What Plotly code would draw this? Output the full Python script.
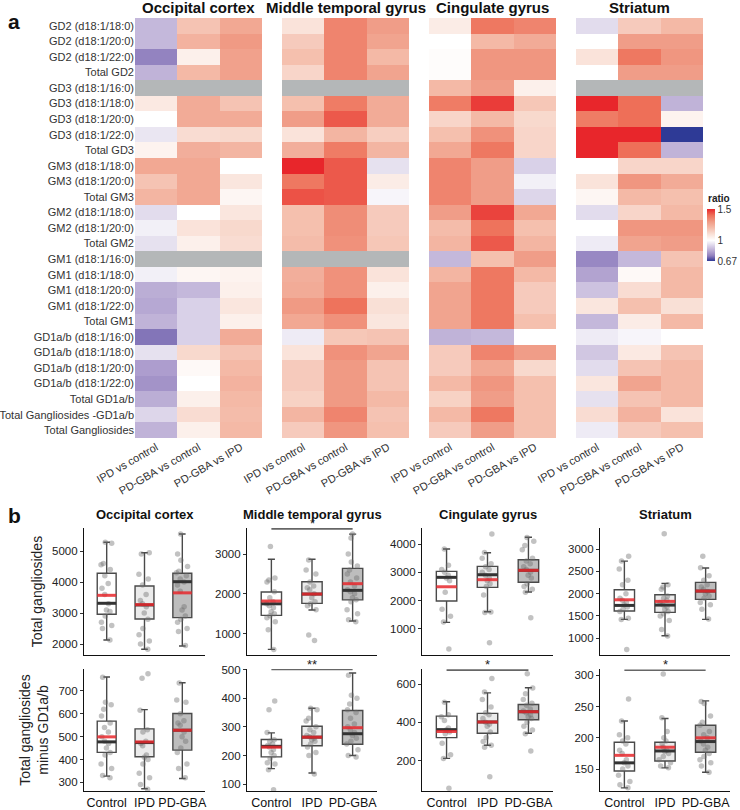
import plotly.graph_objects as go

FONT = "Liberation Sans, Arial, sans-serif"
W, H = 740, 810

# ---------------- heatmap data (ratios) ----------------
rows = ["GD2 (d18:1/18:0)", "GD2 (d18:1/20:0)", "GD2 (d18:1/22:0)", "Total GD2",
        "GD3 (d18:1/16:0)", "GD3 (d18:1/18:0)", "GD3 (d18:1/20:0)", "GD3 (d18:1/22:0)", "Total GD3",
        "GM3 (d18:1/18:0)", "GM3 (d18:1/20:0)", "Total GM3",
        "GM2 (d18:1/18:0)", "GM2 (d18:1/20:0)", "Total GM2",
        "GM1 (d18:1/16:0)", "GM1 (d18:1/18:0)", "GM1 (d18:1/20:0)", "GM1 (d18:1/22:0)", "Total GM1",
        "GD1a/b (d18:1/16:0)", "GD1a/b (d18:1/18:0)", "GD1a/b (d18:1/20:0)", "GD1a/b (d18:1/22:0)",
        "Total GD1a/b", "Total Gangliosides -GD1a/b", "Total Gangliosides"]
comparisons = ["IPD vs control", "PD-GBA vs control", "PD-GBA vs IPD"]
regions = ["Occipital cortex", "Middle temporal gyrus", "Cingulate gyrus", "Striatum"]

occipital = [
    [0.86, 1.18, 1.26], [0.86, 1.23, 1.30], [0.76, 1.05, 1.28], [0.85, 1.21, 1.28],
    [None, None, None], [1.07, 1.25, 1.18], [1.00, 1.25, 1.25], [0.95, 1.11, 1.12], [1.04, 1.24, 1.22],
    [1.26, 1.26, 1.00], [1.18, 1.26, 1.08], [1.22, 1.26, 1.03],
    [0.93, 1.00, 1.08], [0.97, 1.09, 1.12], [0.94, 1.05, 1.11],
    [None, None, None], [0.97, 1.03, 1.04], [0.84, 0.86, 1.05], [0.83, 0.91, 1.08], [0.85, 0.91, 1.05],
    [0.74, 0.91, 1.25], [0.94, 1.12, 1.18], [0.81, 1.02, 1.21], [0.79, 1.00, 1.23],
    [0.84, 1.05, 1.21], [0.92, 1.11, 1.20], [0.85, 1.05, 1.21]]
temporal = [
    [1.09, 1.35, 1.29], [1.16, 1.35, 1.27], [1.19, 1.35, 1.21], [1.13, 1.35, 1.27],
    [None, None, None], [1.19, 1.37, 1.25], [1.29, 1.43, 1.25], [1.09, 1.22, 1.15], [1.24, 1.37, 1.22],
    [1.50, 1.43, 0.94], [1.38, 1.43, 1.06], [1.44, 1.43, 0.98],
    [1.19, 1.33, 1.16], [1.19, 1.33, 1.16], [1.20, 1.32, 1.17],
    [None, None, None], [1.24, 1.32, 1.09], [1.25, 1.32, 1.05], [1.30, 1.39, 1.10], [1.26, 1.32, 1.08],
    [0.96, 1.17, 1.18], [1.09, 1.32, 1.27], [1.16, 1.30, 1.18], [1.16, 1.30, 1.18],
    [1.14, 1.30, 1.21], [1.22, 1.35, 1.18], [1.16, 1.31, 1.19]]
cingulate = [
    [1.06, 1.38, 1.35], [1.00, 1.21, 1.25], [1.01, 1.31, 1.31], [1.01, 1.31, 1.31],
    [1.21, 1.29, 1.05], [1.37, 1.47, 1.17], [1.13, 1.21, 1.12], [1.19, 1.32, 1.13], [1.26, 1.38, 1.13],
    [1.35, 1.29, 0.91], [1.35, 1.29, 0.97], [1.35, 1.29, 0.92],
    [1.29, 1.46, 1.26], [1.20, 1.39, 1.19], [1.22, 1.43, 1.22],
    [0.86, 1.19, 1.29], [1.22, 1.38, 1.21], [1.27, 1.38, 1.16], [1.27, 1.38, 1.16], [1.27, 1.38, 1.19],
    [0.85, 0.86, 1.00], [1.16, 1.35, 1.29], [1.16, 1.26, 1.12], [1.21, 1.31, 1.19],
    [1.14, 1.29, 1.19], [1.21, 1.38, 1.19], [1.16, 1.29, 1.19]]
striatum = [
    [0.93, 1.16, 1.21], [1.00, 1.29, 1.29], [1.09, 1.38, 1.31], [1.00, 1.29, 1.29],
    [None, None, None], [1.50, 1.40, 0.85], [1.37, 1.40, 1.04], [1.50, 1.50, 0.67], [1.50, 1.40, 0.85],
    [1.00, 1.13, 1.13], [1.09, 1.31, 1.25], [1.03, 1.21, 1.19],
    [0.93, 1.13, 1.21], [1.00, 1.31, 1.31], [0.96, 1.27, 1.29],
    [0.77, 0.86, 1.18], [0.82, 1.02, 1.21], [0.88, 1.11, 1.21], [1.08, 1.19, 1.10], [0.86, 1.06, 1.21],
    [0.96, 0.98, 1.00], [0.89, 1.07, 1.18], [0.93, 1.18, 1.21], [1.08, 1.27, 1.21],
    [0.94, 1.18, 1.21], [1.11, 1.23, 1.09], [0.96, 1.16, 1.19]]
heat_data = [occipital, temporal, cingulate, striatum]

# colour anchors (ratio -> colour)
ZMIN, ZMAX = 0.67, 1.5
anchors = [(0.67, "#2E3A96"), (0.70, "#5550A3"), (0.75, "#8E7EBD"), (0.80, "#A898CB"),
           (0.85, "#C0B3D8"), (0.90, "#D5CCE5"), (0.95, "#EAE6F2"), (1.00, "#FFFFFF"),
           (1.10, "#F9E0D6"), (1.20, "#F4BCAA"), (1.30, "#F09A84"), (1.40, "#EE6F58"),
           (1.50, "#E8262B")]
cscale = [[(r - ZMIN) / (ZMAX - ZMIN), c] for r, c in anchors]

# ---------------- box plot data ----------------
groups = ["Control", "IPD", "PD-GBA"]
box_fill = ["#FFFFFF", "#EBEBEB", "#BDBDBD"]

# order per group: q1, median, q3, mean, lower whisker, upper whisker
total_stats = {
    "Occipital cortex": [[2960, 3313, 4280, 3570, 2130, 5280],
                         [2806, 3260, 3870, 3270, 1830, 4945],
                         [2850, 4010, 4280, 3650, 1935, 5550]],
    "Middle temporal gyrus": [[1460, 1750, 2045, 1820, 605, 2867],
                              [1760, 1995, 2305, 1995, 1593, 2867],
                              [1850, 2088, 2640, 2255, 1317, 3500]],
    "Cingulate gyrus": [[1985, 2823, 3035, 2490, 1233, 3823],
                        [2470, 2915, 3210, 2740, 1607, 3693],
                        [2647, 3070, 3445, 3070, 2304, 4236]],
    "Striatum": [[1610, 1737, 2088, 1863, 1424, 2730],
                 [1580, 1744, 1976, 1827, 1056, 2231],
                 [1872, 2058, 2253, 2058, 1424, 2574]],
}
total_points = {
    "Occipital cortex": [
        [5280, 5250, 4600, 4560, 4400, 4200, 3950, 3800, 3600, 3300, 3100, 3050, 2900, 2700, 2600, 2500, 2130],
        [4940, 4900, 4250, 4100, 3900, 3600, 3400, 3300, 3200, 3000, 2800, 2500, 2300, 2100, 2000, 1830],
        [5550, 4900, 4700, 4500, 4350, 4300, 4200, 4100, 4000, 3900, 3700, 3200, 3100, 2900, 2800, 2700, 2500, 2400, 1950]],
    "Middle temporal gyrus": [
        [3190, 2400, 2350, 2300, 2050, 1900, 1800, 1750, 1700, 1650, 1550, 1500, 1450, 1400, 1300, 1100, 605],
        [2850, 2600, 2500, 2300, 2200, 2150, 2100, 2000, 1900, 1800, 1750, 1700, 1600, 965, 830],
        [3500, 3400, 3000, 2800, 2700, 2600, 2500, 2400, 2300, 2200, 2100, 2050, 2000, 1900, 1850, 1800, 1600, 1500, 1350, 1300]],
    "Cingulate gyrus": [
        [3820, 3250, 3100, 3000, 2900, 2800, 2700, 2300, 1700, 1450, 1250, 290],
        [4350, 3700, 3500, 3300, 3200, 3100, 3000, 2900, 2800, 2700, 2600, 2500, 2200, 1600, 1580, 510],
        [4230, 4100, 3950, 3800, 3500, 3400, 3300, 3200, 3100, 3000, 2900, 2800, 2600, 2500, 2400, 2300, 1400]],
    "Striatum": [
        [2840, 2730, 2550, 2300, 2200, 2000, 1900, 1850, 1800, 1750, 1700, 1650, 1600, 1450, 1424, 750],
        [3340, 2200, 2150, 2100, 1950, 1900, 1850, 1800, 1750, 1700, 1650, 1600, 1550, 1500, 1400, 1200, 1050],
        [2840, 2580, 2400, 2300, 2200, 2150, 2100, 2050, 2000, 1950, 1900, 1800, 1750, 1650, 1430]],
}
minus_stats = {
    "Occipital cortex": [[431, 477, 568, 499, 327, 761],
                         [412, 474, 534, 477, 272, 618],
                         [441, 528, 601, 528, 317, 736]],
    "Middle temporal gyrus": [[195, 232, 256, 229, 154, 279],
                              [234, 264, 302, 264, 139, 365],
                              [239, 276, 357, 297, 200, 488]],
    "Cingulate gyrus": [[320, 362, 433, 352, 211, 508],
                        [343, 402, 447, 402, 280, 555],
                        [414, 456, 494, 456, 343, 582]],
    "Striatum": [[147, 160, 193, 172, 120, 227],
                 [163, 179, 193, 185, 152, 231],
                 [177, 194, 220, 200, 145, 259]],
}
minus_points = {
    "Occipital cortex": [
        [760, 650, 640, 620, 590, 560, 540, 520, 500, 480, 470, 450, 430, 420, 380, 360, 330, 320],
        [775, 755, 615, 530, 520, 480, 470, 460, 420, 410, 400, 380, 340, 320, 290, 270],
        [735, 660, 650, 600, 570, 560, 550, 520, 500, 480, 450, 430, 380, 360, 320]],
    "Middle temporal gyrus": [
        [390, 360, 280, 255, 250, 240, 235, 230, 220, 210, 200, 190, 175, 170, 150, 80],
        [365, 360, 330, 320, 300, 290, 280, 270, 265, 260, 255, 250, 240, 230, 210, 200, 135],
        [480, 410, 400, 380, 360, 350, 330, 310, 300, 290, 280, 270, 260, 250, 240, 220, 200, 195]],
    "Cingulate gyrus": [
        [505, 440, 430, 410, 370, 360, 350, 340, 290, 230, 210, 55],
        [630, 560, 520, 480, 450, 440, 420, 400, 390, 380, 350, 320, 300, 280, 270, 115],
        [655, 580, 550, 520, 500, 490, 470, 460, 450, 440, 430, 420, 400, 380, 360, 340, 250]],
    "Striatum": [
        [262, 227, 205, 200, 195, 190, 180, 175, 165, 160, 155, 150, 140, 130, 125, 120],
        [302, 232, 210, 200, 195, 190, 185, 180, 178, 175, 170, 165, 160, 155, 152],
        [258, 255, 235, 225, 220, 210, 205, 200, 195, 190, 185, 180, 175, 170, 165, 160, 155, 145]],
}
# significance: (row, region, label, level)
sig = [("total", "Middle temporal gyrus", "*", 3630),
       ("minus", "Middle temporal gyrus", "**", 500),
       ("minus", "Cingulate gyrus", "*", 674),
       ("minus", "Striatum", "*", 308)]

# ---------------- layout geometry ----------------
def px_x(a, b):
    return [a / W, b / W]

def px_y(top, bottom):
    return [1 - bottom / H, 1 - top / H]

heat_x = [px_x(135, 262), px_x(282, 409), px_x(429, 556), px_x(576, 703)]
heat_y = px_y(18, 438)
box_x = [px_x(84, 205), px_x(247, 377), px_x(422, 553), px_x(600, 730)]
top_y = px_y(528, 655)
bot_y = px_y(669, 791)
top_ranges = {"Occipital cortex": [1645, 5742], "Middle temporal gyrus": [465, 3653],
              "Cingulate gyrus": [81, 4565], "Striatum": [626, 3471]}
bot_ranges = {"Occipital cortex": [262, 796], "Middle temporal gyrus": [76, 502],
              "Cingulate gyrus": [40, 680], "Striatum": [115, 310]}
top_dtick = {"Occipital cortex": 1000, "Middle temporal gyrus": 1000,
             "Cingulate gyrus": 1000, "Striatum": 500}
bot_dtick = {"Occipital cortex": 100, "Middle temporal gyrus": 100,
             "Cingulate gyrus": 200, "Striatum": 50}

fig = go.Figure()
layout = dict(width=W, height=H, margin=dict(l=0, r=0, t=0, b=0, autoexpand=False),
              paper_bgcolor="white", plot_bgcolor="white",
              font=dict(family=FONT, color="#222"), showlegend=False)
annotations = []
shapes = []

# ---------------- heatmaps ----------------
for k, (reg, data) in enumerate(zip(regions, heat_data)):
    n = k + 1
    xa, ya = ("x" if n == 1 else f"x{n}"), ("y" if n == 1 else f"y{n}")
    z = [[float("nan") if v is None else v for v in r] for r in data]
    zna = [[1 if v is None else None for v in r] for r in data]
    fig.add_trace(go.Heatmap(z=zna, x=comparisons, y=rows, xaxis=xa, yaxis=ya,
                             colorscale=[[0, "#B4B7B8"], [1, "#B4B7B8"]], showscale=False,
                             hoverinfo="skip"))
    fig.add_trace(go.Heatmap(z=z, x=comparisons, y=rows, xaxis=xa, yaxis=ya,
                             colorscale=cscale, zmin=ZMIN, zmax=ZMAX,
                             showscale=(n == 4),
                             colorbar=dict(x=707 / W, xanchor="left", y=1 - 209 / H, yanchor="top",
                                           len=52 / H, lenmode="fraction", thickness=8,
                                           xpad=0, ypad=0,
                                           outlinewidth=0, ticks="inside", ticklen=2,
                                           tickcolor="white",
                                           tickvals=[0.67, 1, 1.5], ticktext=["0.67", "1", "1.5"],
                                           tickfont=dict(size=10, family=FONT, color="#333"))))
    layout[f"xaxis{n}" if n > 1 else "xaxis"] = dict(
        domain=heat_x[k], anchor=ya, tickangle=-30, showgrid=False, zeroline=False,
        automargin=False,
        ticks="", tickfont=dict(size=11, family=FONT, color="#333"), showline=False)
    layout[f"yaxis{n}" if n > 1 else "yaxis"] = dict(
        domain=heat_y, anchor=xa, autorange="reversed", showgrid=False, zeroline=False,
        automargin=False,
        ticks="", showticklabels=(n == 1), tickfont=dict(size=11, family=FONT, color="#333"))
    cx = (heat_x[k][0] + heat_x[k][1]) / 2
    annotations.append(dict(text=f"<b>{reg}</b>", x=cx, y=1 - 8 / H, xref="paper", yref="paper",
                            showarrow=False, font=dict(size=15, family=FONT, color="#111"),
                            xanchor="center", yanchor="middle"))

annotations.append(dict(text="<b>ratio</b>", x=706 / W, y=1 - 198 / H, xref="paper", yref="paper",
                        showarrow=False, font=dict(size=10, family=FONT, color="#222"),
                        xanchor="left", yanchor="middle"))
annotations.append(dict(text="<b>a</b>", x=6 / W, y=1 - 22 / H, xref="paper", yref="paper",
                        showarrow=False, font=dict(size=21, family=FONT, color="#111"),
                        xanchor="left", yanchor="middle"))
annotations.append(dict(text="<b>b</b>", x=6 / W, y=1 - 515 / H, xref="paper", yref="paper",
                        showarrow=False, font=dict(size=21, family=FONT, color="#111"),
                        xanchor="left", yanchor="middle"))

# ---------------- box plots ----------------
HALF = 0.25
for rowname, stats_d, pts_d, ydom, ranges, dticks, start in [
        ("total", total_stats, total_points, top_y, top_ranges, top_dtick, 5),
        ("minus", minus_stats, minus_points, bot_y, bot_ranges, bot_dtick, 9)]:
    for k, reg in enumerate(regions):
        n = start + k
        xa, ya = f"x{n}", f"y{n}"
        st = stats_d[reg]
        pts = pts_d[reg]
        for g in range(3):
            q1, med, q3, mean, lo, hi = st[g]
            fig.add_trace(go.Box(x=[g + 1], y=[pts[g]], q1=[q1], median=[med], q3=[q3],
                                 lowerfence=[lo], upperfence=[hi], width=0.5,
                                 fillcolor=box_fill[g], line=dict(color="#4A4A4A", width=1.4),
                                 whiskerwidth=0.35, boxpoints="all", jitter=0.7, pointpos=0,
                                 marker=dict(color="rgba(110,110,110,0.42)", size=5.5,
                                             line=dict(width=0)),
                                 xaxis=xa, yaxis=ya, hoverinfo="y"))
        mx, my, ex, ey = [], [], [], []
        for g in range(3):
            q1, med, q3, mean, lo, hi = st[g]
            mx += [g + 1 - HALF, g + 1 + HALF, None]
            my += [med, med, None]
            ex += [g + 1 - HALF, g + 1 + HALF, None]
            ey += [mean, mean, None]
        fig.add_trace(go.Scatter(x=mx, y=my, mode="lines", line=dict(color="#333333", width=3),
                                 xaxis=xa, yaxis=ya, hoverinfo="skip"))
        fig.add_trace(go.Scatter(x=ex, y=ey, mode="lines",
                                 line=dict(color="rgba(232,40,45,0.85)", width=3),
                                 xaxis=xa, yaxis=ya, hoverinfo="skip"))
        layout[f"xaxis{n}"] = dict(
            domain=box_x[k], anchor=ya, range=[0.4, 3.6], tickvals=[1, 2, 3],
            ticktext=groups, showticklabels=(rowname == "minus"), ticks="", tickangle=0,
            automargin=False,
            showline=True, linecolor="#111", linewidth=1.2, showgrid=False, zeroline=False,
            tickfont=dict(size=12.5, family=FONT, color="#111"))
        ydict = dict(domain=ydom, anchor=xa, range=ranges[reg], dtick=dticks[reg], tick0=0,
                     ticks="outside", ticklen=3, tickcolor="#333", showline=True, linecolor="#111",
                     linewidth=1.2, showgrid=False, zeroline=False, automargin=False,
                     tickfont=dict(size=11.5, family=FONT, color="#222"))
        if k == 0:
            ydict["title"] = dict(text=("Total gangliosides" if rowname == "total"
                                        else "Total gangliosides<br>minus GD1a/b"),
                                  font=dict(size=14, family=FONT, color="#222"), standoff=6)
        layout[f"yaxis{n}"] = ydict
        if rowname == "total":
            cx = (box_x[k][0] + box_x[k][1]) / 2
            annotations.append(dict(text=f"<b>{reg}</b>", x=cx, y=1 - 514 / H, xref="paper",
                                    yref="paper", showarrow=False,
                                    font=dict(size=13, family=FONT, color="#111"),
                                    xanchor="center", yanchor="middle"))
        for srow, sreg, lab, lev in sig:
            if srow == rowname and sreg == reg:
                shapes.append(dict(type="line", xref=xa, yref=ya, x0=1, x1=3, y0=lev, y1=lev,
                                   line=dict(color="#666", width=1.6)))
                annotations.append(dict(text=lab, x=2, y=lev, xref=xa, yref=ya, showarrow=False,
                                        yanchor="bottom", yshift=-4,
                                        font=dict(size=13, family=FONT, color="#222")))

layout["annotations"] = annotations
layout["shapes"] = shapes
fig.update_layout(**layout)
fig.write_html("out.html", config={"displayModeBar": False},
               post_script="document.body.style.margin='0px';")
